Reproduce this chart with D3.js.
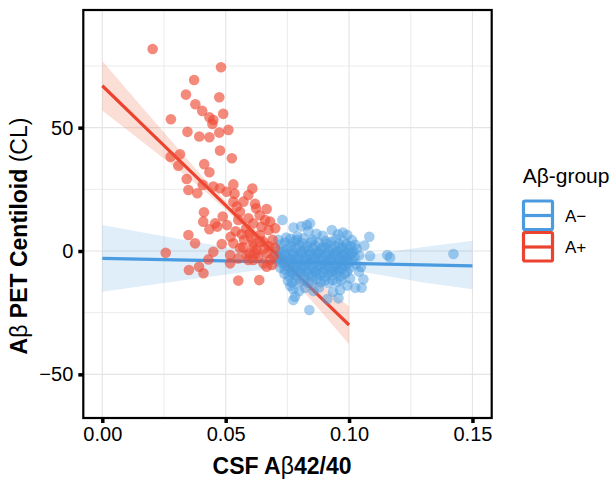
<!DOCTYPE html>
<html lang="en">
<head>
<meta charset="utf-8">
<title>Abeta PET vs CSF</title>
<script src="https://cdn.jsdelivr.net/npm/d3@7"></script>
<style>
  body { margin: 0; background: #fff; }
  text { font-family: "Liberation Sans", Arial, sans-serif; fill: #000; }
  .tick text { font-size: 20px; }
  .grid { stroke: #e4e4e4; }
</style>
</head>
<body>
<svg id="chart" width="616" height="479"></svg>
<script>
// ---- data ----
var groups = ["A\u2212", "A+"];
var groupColors = ["#4a9be0", "#ec4330"];

var xTicks = [0, 0.05, 0.10, 0.15];
var xMinor = [0.025, 0.075, 0.125];
var yTicks = [-50, 0, 50];
var yMinor = [-25, 25, 75];

// A- points (CSF ratio, centiloid)
var negX = [
  0.0722,0.0741,0.0763,0.0779,0.0797,0.0812,0.0829,0.0846,0.0861,0.0877,0.0894,0.0911,0.0926,0.0942,0.0959,0.0974,0.0989,0.1007,
  0.0712,0.0731,0.0749,0.0768,0.0784,0.0803,0.0819,0.0837,0.0852,0.0869,0.0886,0.0902,0.0918,0.0933,0.0951,0.0968,0.0983,0.0998,0.1016,0.1031,
  0.0705,0.0724,0.0743,0.0758,0.0776,0.0792,0.0808,0.0825,0.0841,0.0857,0.0873,0.0889,0.0906,0.0921,0.0938,0.0955,0.0971,0.0986,0.1003,0.1022,0.1041,
  0.0715,0.0733,0.0751,0.0767,0.0783,0.0799,0.0816,0.0832,0.0848,0.0865,0.0881,0.0897,0.0913,0.0929,0.0946,0.0962,0.0978,0.0995,0.1012,0.1028,
  0.0721,0.0739,0.0756,0.0772,0.0789,0.0805,0.0821,0.0838,0.0854,0.0870,0.0887,0.0903,0.0919,0.0936,0.0952,0.0969,0.0985,0.1001,
  0.0738,0.0755,0.0771,0.0787,0.0803,0.0819,0.0836,0.0852,0.0868,0.0884,0.0901,0.0917,0.0933,0.0949,0.0966,0.0982,
  0.0752,0.0769,0.0786,0.0802,0.0818,0.0835,0.0851,0.0868,0.0884,0.0901,0.0917,0.0934,0.0951,0.0968,
  0.0739,0.0774,0.0811,0.0845,0.0879,0.0913,0.0944,0.0978,0.1010,
  0.0729,0.0762,0.0795,0.0828,0.0861,0.0895,0.0927,0.0960,0.0993,
  0.0745,0.0779,0.0812,0.0844,0.0877,0.0909,0.0942,0.0975,
  0.0763,0.0796,0.0829,0.0862,0.0895,0.0927,0.0960,0.0992,
  0.0774,0.0781,0.0774,0.0797,0.0839,0.0822,0.0856,0.0878,0.0912,0.0957,0.0935,0.1004,0.1058,0.1051,0.1025,0.0993,0.0964,0.0762,
  0.1085,0.1155,0.1166,0.1423,0.1062,0.1048,0.1040,
  0.0730,0.0775,0.0806,0.0829,0.0842,0.0835,0.0868,0.0893,0.0930,0.0955,0.0975,0.0993,0.1082,0.0790,0.0745,0.0762,0.0815,0.0852,0.0905,0.0946,0.0980,0.1012,0.1025,0.0713,0.0788
];
var negY = [
  2.6,3.4,2.1,3.8,2.4,3.1,1.9,3.6,2.2,3.3,1.7,2.9,3.7,2.0,3.0,1.6,2.7,1.9,
  0.4,-0.3,1.0,0.2,1.3,-0.2,0.8,0.1,1.1,-0.4,0.6,1.2,-0.1,0.7,0.0,1.0,-0.5,0.5,-0.3,0.9,
  -1.8,-2.5,-1.4,-2.9,-1.6,-2.3,-1.2,-2.8,-1.7,-2.4,-1.1,-2.6,-1.9,-2.7,-1.3,-2.2,-1.5,-2.9,-1.8,-2.4,-1.6,
  -4.2,-5.0,-3.9,-4.8,-3.7,-5.1,-4.1,-4.9,-3.8,-4.6,-3.6,-5.2,-4.3,-3.9,-5.0,-4.4,-3.8,-4.9,-4.0,-5.3,
  -6.8,-7.5,-6.4,-7.9,-6.6,-7.3,-6.2,-7.7,-6.9,-7.6,-6.3,-7.2,-6.5,-7.8,-6.7,-7.4,-6.1,-7.0,
  -9.2,-10.1,-9.0,-9.9,-8.8,-10.3,-9.4,-10.0,-8.9,-9.7,-10.4,-9.1,-9.8,-8.7,-10.2,-9.3,
  -12.1,-12.8,-11.6,-12.5,-11.9,-13.0,-12.2,-11.5,-12.7,-12.0,-13.1,-11.8,-12.6,-11.9,
  -0.9,-1.0,-0.6,-1.2,-0.7,-1.1,-0.8,-1.3,-0.9,
  -3.3,-3.6,-3.2,-3.7,-3.1,-3.5,-3.4,-3.3,-3.6,
  -5.9,-5.6,-6.0,-5.5,-5.9,-5.7,-6.0,-5.6,
  -8.4,-8.1,-8.5,-8.2,-8.6,-8.3,-8.0,-8.4,
  -15.5,-18.5,-19.9,-16.3,-23.9,-15.0,-16.2,-14.8,-19.5,-19.2,-16.5,-11.1,-11.5,-14.9,-14.9,-14.0,-15.8,-14.2,
  -2.0,-1.6,-2.6,-1.2,2.2,-6.5,-8.3,
  12.6,9.5,10.0,10.5,11.2,8.0,7.0,6.2,8.5,6.8,7.5,6.5,5.8,6.0,5.5,4.9,5.1,4.6,4.0,4.8,3.9,4.4,2.5,4.5,4.5
];

// A+ points
var posX = [
  0.0204,0.0481,0.0372,0.0339,0.0474,0.0377,0.0405,0.0434,0.0450,0.0446,0.0490,0.0278,0.0345,0.0393,0.0434,0.0474,0.0511,
  0.0477,0.0525,0.0277,0.0315,0.0308,0.0413,0.0434,0.0342,0.0349,0.0385,0.0407,0.0450,0.0477,0.0504,0.0531,0.0536,
  0.0608,0.0592,0.0572,0.0531,0.0545,0.0619,0.0623,0.0666,0.0412,0.0409,0.0457,0.0466,0.0434,0.0558,0.0592,0.0612,
  0.0551,0.0680,0.0701,0.0674,0.0349,0.0257,0.0351,0.0392,0.0410,0.0430,0.0450,0.0376,0.0484,0.0518,0.0518,0.0551,
  0.0592,0.0596,0.0551,0.0636,0.0666,0.0632,0.0666,0.0680,0.0531,0.0558,0.0612,0.0639,0.0639,0.0653,0.0612,0.0626,
  0.0687,0.0653,0.0612,0.0565,0.0582,0.0598,0.0575,0.0603,0.0645,0.0660,0.0690,0.0700,0.0695,0.0540,0.0520,0.0505,
  0.0488,0.0638,0.0655,0.0585,0.0570,0.0620,0.0675
];
var posY = [
  81.9,74.5,69.3,63.4,62.3,59.5,56.8,54.2,53.1,51.5,55.6,53.4,48.3,46.4,46.1,48.0,49.1,
  40.7,37.6,38.2,39.2,34.6,35.2,31.9,29.2,24.7,23.4,26.8,26.1,25.4,24.0,27.0,23.2,
  25.3,22.7,20.0,20.0,18.0,19.1,17.3,17.0,15.7,11.9,11.2,9.9,8.8,15.9,13.3,11.2,
  12.6,11.9,9.2,8.5,6.5,-0.7,-7.7,-6.4,-9.0,-3.4,-0.3,3.1,2.8,-1.6,-5.0,-3.0,
  -3.6,-0.9,-12.0,-11.8,-6.4,-2.3,-0.9,-3.6,3.1,1.1,1.7,3.8,6.5,3.8,3.1,0.4,
  -5.7,-5.0,-3.6,6.8,9.0,7.2,4.5,5.5,9.8,12.5,4.5,1.2,-2.0,8.0,5.8,10.5,
  14.0,14.5,0.8,-1.5,1.5,-1.0,2.0
];

// fitted lines and confidence bands
var negFitX = [0, 0.03, 0.06, 0.085, 0.11, 0.13, 0.15];
var negFit  = [-3.0, -3.6, -4.2, -4.7, -5.2, -5.6, -6.0];
var negLo   = [-16.5, -12.3, -8.2, -5.7, -9.2, -12.8, -15.5];
var negHi   = [10.5, 5.1, -0.2, -3.7, -1.2, 1.6, 4.2];

var posFitX = [0, 0.02, 0.04, 0.05, 0.06, 0.07, 0.08, 0.09, 0.10];
var posFit  = [67.0, 47.6, 28.2, 18.5, 8.8, -0.9, -10.6, -20.3, -30.0];
var posLo   = [57.0, 41.4, 25.6, 16.7, 7.0, -3.4, -14.6, -26.1, -37.8];
var posHi   = [77.0, 53.8, 30.8, 20.3, 10.6, 1.6, -6.6, -14.5, -22.5];

// ---- layout ----
var svg = d3.select("#chart"),
    margin = {top: 10, right: 124.3, bottom: 61, left: 83.3},
    width = 616 - margin.left - margin.right,
    height = 479 - margin.top - margin.bottom;

var x = d3.scaleLinear().domain([-0.0077, 0.1578]).range([0, width]);
var y = d3.scaleLinear().domain([-67.7, 97.7]).range([height, 0]);

var g = svg.append("g")
  .attr("transform", "translate(" + margin.left + "," + margin.top + ")");

// grid lines
g.selectAll(".gx").data(xTicks.concat(xMinor)).enter().append("line")
  .attr("class", "grid")
  .attr("x1", function(d) { return x(d); }).attr("x2", function(d) { return x(d); })
  .attr("y1", 0).attr("y2", height)
  .attr("stroke-width", function(d) { return xTicks.indexOf(d) >= 0 ? 1.1 : 0.7; });
g.selectAll(".gy").data(yTicks.concat(yMinor)).enter().append("line")
  .attr("class", "grid")
  .attr("y1", function(d) { return y(d); }).attr("y2", function(d) { return y(d); })
  .attr("x1", 0).attr("x2", width)
  .attr("stroke-width", function(d) { return yTicks.indexOf(d) >= 0 ? 1.1 : 0.7; });

// confidence bands
var band = function(xs, lo, hi) {
  return d3.area()
    .x(function(d, i) { return x(xs[i]); })
    .y0(function(d, i) { return y(lo[i]); })
    .y1(function(d, i) { return y(hi[i]); })(xs);
};
g.append("path").attr("d", band(negFitX, negLo, negHi))
  .attr("fill", groupColors[0]).attr("fill-opacity", 0.17);
g.append("path").attr("d", band(posFitX, posLo, posHi))
  .attr("fill", "#ef6a45").attr("fill-opacity", 0.22);

// fitted lines
var fitLine = function(xs, ys) {
  return d3.line()
    .x(function(d, i) { return x(xs[i]); })
    .y(function(d, i) { return y(ys[i]); })(xs);
};
g.append("path").attr("d", fitLine(negFitX, negFit))
  .attr("fill", "none").attr("stroke", groupColors[0]).attr("stroke-width", 3.2);
g.append("path").attr("d", fitLine(posFitX, posFit))
  .attr("fill", "none").attr("stroke", groupColors[1]).attr("stroke-width", 3.2);

// points
g.selectAll(".neg").data(negX).enter().append("circle")
  .attr("cx", function(d) { return x(d); })
  .attr("cy", function(d, i) { return y(negY[i]); })
  .attr("r", 5.3)
  .attr("fill", groupColors[0]).attr("fill-opacity", 0.5);
g.selectAll(".pos").data(posX).enter().append("circle")
  .attr("cx", function(d) { return x(d); })
  .attr("cy", function(d, i) { return y(posY[i]); })
  .attr("r", 5.3)
  .attr("fill", "#ee4c36").attr("fill-opacity", 0.65);

// panel border
g.append("rect").attr("width", width).attr("height", height)
  .attr("fill", "none").attr("stroke", "#000").attr("stroke-width", 2.2);

// axes
var xAxis = g.append("g").attr("transform", "translate(0," + height + ")")
  .call(d3.axisBottom(x).tickValues(xTicks).tickFormat(d3.format(".2f")).tickSize(5).tickPadding(4));
var yAxis = g.append("g")
  .call(d3.axisLeft(y).tickValues(yTicks).tickFormat(d3.format("d")).tickSize(5).tickPadding(5));
[xAxis, yAxis].forEach(function(a) {
  a.select(".domain").remove();
  a.selectAll(".tick line").attr("stroke", "#000").attr("stroke-width", 3.5);
  a.selectAll(".tick text").attr("fill", "#000").style("font-family", "Liberation Sans, Arial, sans-serif");
});

// axis titles
var xt = svg.append("text")
  .attr("x", 282).attr("y", 474)
  .attr("text-anchor", "middle")
  .style("font-size", "23px");
xt.append("tspan").style("font-weight", "bold").text("CSF A");
xt.append("tspan").text("\u03b2");
xt.append("tspan").style("font-weight", "bold").text("42/40");

var yt = svg.append("text")
  .attr("transform", "translate(27,236) rotate(-90)")
  .attr("text-anchor", "middle")
  .style("font-size", "23px");
yt.append("tspan").style("font-weight", "bold").text("A");
yt.append("tspan").text("\u03b2");
yt.append("tspan").style("font-weight", "bold").text(" PET Centiloid");
yt.append("tspan").text(" (CL)");

// legend
var legend = svg.append("g").attr("transform", "translate(522,183)");
legend.append("text").attr("x", 0.7).attr("y", 0)
  .style("font-size", "21px").text("A\u03b2-group");
var key = legend.selectAll(".key").data(groups).enter().append("g")
  .attr("transform", function(d, i) { return "translate(0," + (16.5 + i * 31.5) + ")"; });
key.append("rect")
  .attr("x", 1.5).attr("y", 1.5).attr("width", 29).attr("height", 28.5)
  .attr("rx", 1.5)
  .attr("fill", "#fff")
  .attr("stroke", function(d, i) { return groupColors[i]; })
  .attr("stroke-width", 3.2);
key.append("line")
  .attr("x1", 1.5).attr("x2", 30.5).attr("y1", 16).attr("y2", 16)
  .attr("stroke", function(d, i) { return groupColors[i]; })
  .attr("stroke-width", 3.2);
key.append("text")
  .attr("x", 43).attr("y", 16).attr("dy", "0.36em")
  .style("font-size", "17px")
  .text(function(d) { return d; });
</script>
</body>
</html>
